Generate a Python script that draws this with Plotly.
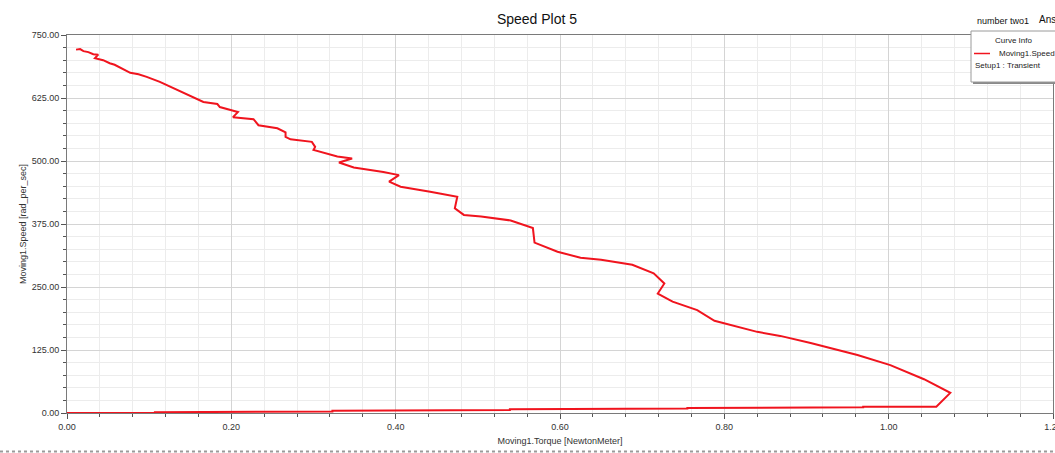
import plotly.graph_objects as go

# ---- data ----
# lower branch: staircase along the bottom (torque rising at almost zero speed)
bottom_torque = [0.0, 0.107, 0.107, 0.216, 0.216, 0.323, 0.323, 0.431, 0.431, 0.539, 0.539,
                 0.647, 0.647, 0.755, 0.755, 0.863, 0.863, 0.969, 0.969, 1.058]
bottom_speed = [0.0, 0.0, 1.5, 1.5, 3.0, 3.0, 4.5, 4.5, 6.0, 6.0, 7.5,
                7.5, 8.8, 8.8, 10.0, 10.0, 11.2, 11.2, 12.5, 12.5]

# upper branch (listed from top-left to the tip)
upper_torque = [0.011, 0.016, 0.020, 0.026, 0.032, 0.038, 0.034, 0.044, 0.052, 0.058,
                0.067, 0.077, 0.087, 0.097, 0.113, 0.132, 0.149, 0.166, 0.183, 0.186,
                0.208, 0.202, 0.227, 0.233, 0.256, 0.266, 0.266, 0.272, 0.298, 0.302,
                0.300, 0.329, 0.347, 0.331, 0.349, 0.385, 0.404, 0.392, 0.406, 0.442,
                0.475, 0.472, 0.483, 0.504, 0.540, 0.567, 0.569, 0.597, 0.625, 0.650,
                0.688, 0.714, 0.727, 0.719, 0.737, 0.767, 0.788, 0.840, 0.868, 0.905,
                0.962, 1.002, 1.043, 1.075]
upper_speed = [721, 722, 718, 716, 712, 711, 704, 700, 694, 691,
               684, 675, 672, 667, 657, 644, 630, 617, 613, 607,
               597, 587, 583, 571, 565, 557, 548, 543, 538, 528,
               522, 509, 505, 497, 487, 478, 472, 459, 449, 439,
               429, 406, 393, 390, 382, 367, 338, 320, 308, 304,
               294, 277, 257, 237, 221, 204, 183, 161, 153, 139,
               115, 95, 67, 40]

x_ticks = [0.0, 0.2, 0.4, 0.6, 0.8, 1.0, 1.2]
y_ticks = [0, 125, 250, 375, 500, 625, 750]

# full path: along the bottom, up to the tip, then back to the top-left
torque = bottom_torque + upper_torque[::-1]
speed = bottom_speed + upper_speed[::-1]

W, H = 1055, 453
L, R, T, B = 67, 1053, 35, 413  # plot area in pixels


def px(x):
    return (x - L) / (R - L)


def py(y):
    return (B - y) / (B - T)


FONT = "Liberation Sans, Arial, sans-serif"
RED = "#f0141e"

fig = go.Figure()
fig.add_trace(go.Scatter(
    x=torque, y=speed, mode="lines",
    line=dict(color=RED, width=2),
    showlegend=False, hoverinfo="x+y",
))

axis_common = dict(
    showline=True, linecolor="#7a7a7a", linewidth=1, mirror=True,
    ticks="outside", ticklen=5, tickcolor="#555555", tickwidth=1,
    showgrid=True, gridcolor="#d4d4d4", gridwidth=1,
    zeroline=False, tickformat=".2f", ticklabeloverflow="allow",
    automargin=False,
    tickfont=dict(family=FONT, size=9, color="#333333"),
)

fig.update_layout(
    width=W, height=H,
    margin=dict(l=L, r=W - R, t=T, b=H - B),
    paper_bgcolor="white", plot_bgcolor="white",
    font=dict(family=FONT),
    title=dict(text="Speed Plot 5", x=(537) / W, xanchor="center",
               y=1 - 19 / H, yanchor="middle",
               font=dict(family=FONT, size=14, color="#111111")),
    xaxis=dict(
        range=[0, 1.2], tickvals=x_ticks,
        minor=dict(dtick=0.04, ticks="outside", ticklen=3, tickcolor="#555555",
                   showgrid=True, gridcolor="#ececec"),
        title=dict(text="Moving1.Torque [NewtonMeter]", standoff=6,
                   font=dict(family=FONT, size=9, color="#333333")),
        **axis_common,
    ),
    yaxis=dict(
        range=[0, 750], tickvals=y_ticks,
        minor=dict(dtick=25, ticks="outside", ticklen=3, tickcolor="#555555",
                   showgrid=True, gridcolor="#ececec"),
        title=dict(text="Moving1.Speed [rad_per_sec]", standoff=3,
                   font=dict(family=FONT, size=9, color="#333333")),
        **axis_common,
    ),
)

# header texts at the top right
fig.add_annotation(text="number two1", xref="paper", yref="paper",
                   x=px(975), y=py(21), xanchor="left", yanchor="middle",
                   showarrow=False, font=dict(family=FONT, size=9, color="#111111"))
fig.add_annotation(text="Ansys", xref="paper", yref="paper",
                   x=px(1037), y=py(19), xanchor="left", yanchor="middle",
                   showarrow=False, font=dict(family=FONT, size=10, color="#111111"))

# curve-info box with shadow
fig.add_shape(type="rect", xref="paper", yref="paper",
              x0=px(973), x1=px(1060), y0=py(84), y1=py(33),
              line=dict(width=0), fillcolor="#8a8a8a", layer="above")
fig.add_shape(type="rect", xref="paper", yref="paper",
              x0=px(971), x1=px(1058), y0=py(82), y1=py(31),
              line=dict(color="#9a9a9a", width=1), fillcolor="white", layer="above")
fig.add_annotation(text="Curve Info", xref="paper", yref="paper",
                   x=px(1013), y=py(40), xanchor="center", yanchor="middle",
                   showarrow=False, font=dict(family=FONT, size=8, color="#222222"))
fig.add_shape(type="line", xref="paper", yref="paper",
              x0=px(974), x1=px(990), y0=py(53.5), y1=py(53.5),
              line=dict(color=RED, width=1.5), layer="above")
fig.add_annotation(text="Moving1.Speed", xref="paper", yref="paper",
                   x=px(997), y=py(54), xanchor="left", yanchor="middle",
                   showarrow=False, font=dict(family=FONT, size=8, color="#222222"))
fig.add_annotation(text="Setup1 : Transient", xref="paper", yref="paper",
                   x=px(973), y=py(66), xanchor="left", yanchor="middle",
                   showarrow=False, font=dict(family=FONT, size=8, color="#222222"))

# window border line at the very bottom
fig.add_shape(type="line", xref="paper", yref="paper",
              x0=px(0), x1=px(W), y0=py(451.5), y1=py(451.5),
              line=dict(color="#9a9a9a", width=2, dash="dot"), layer="above")

fig.write_html("out.html")
